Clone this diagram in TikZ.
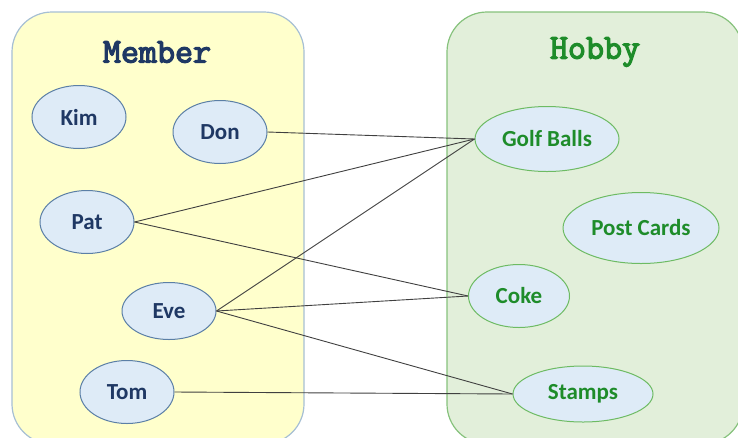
\documentclass[tikz,border=0pt]{standalone}
\usepackage{fontspec}
\setmainfont{Carlito}
\newfontfamily\titlefont[FakeBold=3.5]{Latin Modern Mono}
\usepackage{tikz}
\usetikzlibrary{shapes.geometric}

\definecolor{MemberFill}{HTML}{FFFFCC}
\definecolor{MemberLine}{HTML}{A6BFD4}
\definecolor{HobbyFill}{HTML}{E2EFDA}
\definecolor{HobbyLine}{HTML}{86C27C}
\definecolor{OvalFill}{HTML}{DEEBF7}
\definecolor{MemberOval}{HTML}{5B7FA6}
\definecolor{MemberText}{HTML}{1F3864}
\definecolor{HobbyText}{HTML}{1E8C2A}
\definecolor{HobbyOval}{HTML}{6DBB63}

\begin{document}
\begin{tikzpicture}[x=1pt,y=-1pt]
  \tikzset{BoxStyle/.style = {
    shape          = rectangle,
    rounded corners = 40pt,
    line width     = 1.2pt,
    inner sep      = 0pt
    }
  }
  \tikzset{MemberStyle/.style = {
    shape         = ellipse,
    draw          = MemberOval,
    fill          = OvalFill,
    line width    = 1pt,
    text          = MemberText,
    font          = \fontsize{23}{25}\selectfont\bfseries,
    inner sep     = 0pt,
    minimum width = 94pt,
    minimum height = 63pt
    }
  }
  \tikzset{HobbyStyle/.style = {
    MemberStyle,
    draw          = HobbyOval,
    text          = HobbyText
    }
  }
  \tikzset{TitleStyle/.style = {
    font          = \titlefont\fontsize{35}{36}\selectfont
    }
  }
  \tikzset{EdgeStyle/.style = {
    draw          = black!75,
    line width    = 0.9pt
    }
  }
  \useasboundingbox (0,0) rectangle (738,437);

	\node[BoxStyle, draw=MemberLine, fill=MemberFill, minimum width=292pt, minimum height=432pt](MB) at (158, 228) {};
	\node[BoxStyle, draw=HobbyLine, fill=HobbyFill, minimum width=296pt, minimum height=432pt](HB) at (595, 228) {};
	\node[TitleStyle, text=MemberText](MT) at (157, 52) {Member};
	\node[TitleStyle, text=HobbyText](HT) at (595, 52) {Hobby};

	\node[MemberStyle](M1) at (79, 117) {Kim};
	\node[MemberStyle](M2) at (220, 132) {Don};
	\node[MemberStyle](M3) at (87, 222) {Pat};
	\node[MemberStyle, minimum height=57pt](M4) at (169, 311) {Eve};
	\node[MemberStyle](M5) at (127, 392) {Tom};

	\node[HobbyStyle, minimum width=144pt, minimum height=65pt](H1) at (547, 139) {Golf Balls};
	\node[HobbyStyle, minimum width=156pt, minimum height=71pt](H2) at (641, 228) {Post Cards};
	\node[HobbyStyle, minimum width=101pt](H3) at (519, 296) {Coke};
	\node[HobbyStyle, minimum width=140pt, minimum height=56pt](H4) at (583, 394) {Stamps};

	\draw[EdgeStyle](M2.east) -- (H1.west);
	\draw[EdgeStyle](M3.east) -- (H1.west);
	\draw[EdgeStyle](M3.east) -- (H3.west);
	\draw[EdgeStyle](M4.east) -- (H1.west);
	\draw[EdgeStyle](M4.east) -- (H3.west);
	\draw[EdgeStyle](M4.east) -- (H4.west);
	\draw[EdgeStyle](M5.east) -- (H4.west);
\end{tikzpicture}
\end{document}
